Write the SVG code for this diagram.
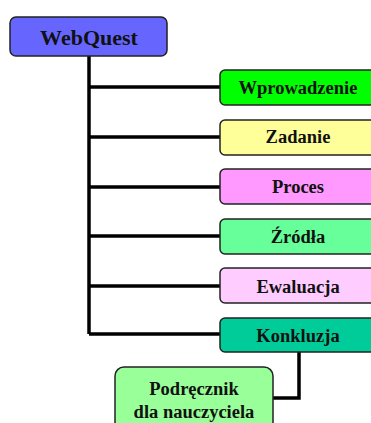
<svg xmlns="http://www.w3.org/2000/svg" width="371" height="423" viewBox="0 0 371 423">
<style>
.box{stroke:#222;stroke-width:1.5}
.t{font-family:"Liberation Serif","Times New Roman",serif;font-weight:bold;font-size:18.5px;text-anchor:middle;fill:#111}
.c{stroke:#000;fill:none;stroke-width:3.5}
</style>
<rect x="0" y="0" width="371" height="423" fill="#fff"/>
<g id="connectors">
<path class="c" d="M89 56 V334"/>
<path class="c" d="M89 87 H220 M89 137 H220 M89 187 H220 M89 236 H220 M89 286 H220 M89 334 H220"/>
<path class="c" d="M299 352 V398 H273"/>
</g>
<g id="webquest">
<rect class="box" x="10" y="17" width="157" height="39" rx="6" fill="#6666FF"/>
<text class="t" x="89" y="45" style="font-size:22px">WebQuest</text>
</g>
<g id="wprowadzenie">
<rect class="box" x="220" y="70" width="156" height="35" rx="5" fill="#00FF00"/>
<text class="t" x="298" y="94">Wprowadzenie</text>
</g>
<g id="zadanie">
<rect class="box" x="220" y="120" width="156" height="35" rx="5" fill="#FFFF99"/>
<text class="t" x="298" y="143">Zadanie</text>
</g>
<g id="proces">
<rect class="box" x="220" y="169" width="156" height="35" rx="5" fill="#FF99FF"/>
<text class="t" x="298" y="193">Proces</text>
</g>
<g id="zrodla">
<rect class="box" x="220" y="219" width="156" height="35" rx="5" fill="#66FF99"/>
<text class="t" x="298" y="243">Źródła</text>
</g>
<g id="ewaluacja">
<rect class="box" x="220" y="268" width="156" height="35" rx="5" fill="#FFCCFF"/>
<text class="t" x="298" y="293">Ewaluacja</text>
</g>
<g id="konkluzja">
<rect class="box" x="220" y="318" width="156" height="34" rx="5" fill="#00CC99"/>
<text class="t" x="298" y="342">Konkluzja</text>
</g>
<g id="podrecznik">
<rect class="box" x="115" y="367" width="158" height="70" rx="9" fill="#99FF99"/>
<text class="t" x="194" y="395">Podręcznik</text>
<text class="t" x="194" y="418">dla nauczyciela</text>
</g>
</svg>
